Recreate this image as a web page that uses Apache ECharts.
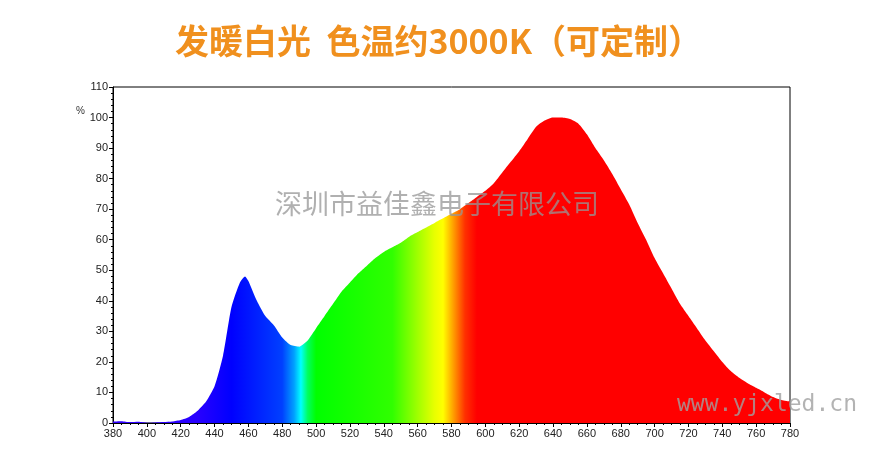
<!DOCTYPE html>
<html><head><meta charset="utf-8">
<script src="https://cdn.jsdelivr.net/npm/echarts@6/dist/echarts.min.js"></script>
<style>html,body{margin:0;padding:0;background:#fff}#c{width:877px;height:460px}</style>
</head><body><div id="c"></div>
<script>
const wavelengths = [380,385,390,395,400,405,410,415,420,425,430,435,440,445,450,455,458,460,465,470,475,480,485,490,495,500,505,510,515,520,525,530,535,540,545,550,555,560,565,570,575,580,585,590,595,600,605,610,615,620,625,630,635,640,645,650,655,660,665,670,675,680,685,690,695,700,705,710,715,720,725,730,735,740,745,750,755,760,765,770,775,780];
const intensity = [0.5,0.6,0.3,0.4,0.1,0.2,0.3,0.5,1,2,4,7,12,22,38,46,48,46.5,40,35,32,28,25.5,25,27,31,35,39,43,46,49,51.5,54,56,57.5,59,61,62.5,64,65.5,67,68.5,70,72,74,76,78.5,82,85.5,89,93,97,99,100,100,99.5,98,94.5,90,86,81.5,76.5,71.5,65.5,60,54,49,44,39,35,31,27,23.5,20,17,14.8,13,11.5,10,8.5,7.5,7];
const xTicks = {min:380, max:780, step:20};
const yTicks = {min:0, max:110, step:10};
const title = '发暖白光  色温约3000K（可定制）';
const watermark1 = '深圳市益佳鑫电子有限公司';
const watermark2 = 'www.yjxled.cn';
const specStops = [[380,'#3000ff'],[430,'#2800ff'],[450,'#0000ff'],[480,'#0040ff'],[487,'#00a0ff'],[491,'#00ffff'],[495,'#00ff60'],[500,'#00ff00'],[545,'#30ff00'],[560,'#a0ff00'],[570,'#e8ff00'],[575,'#ffff00'],[580,'#ffb000'],[588,'#ff3000'],[595,'#ff0000'],[780,'#ff0000']];
const data = wavelengths.map((w,i)=>[w,intensity[i]]);
const chart = echarts.init(document.getElementById('c'));
const axisLabel = {color:'#222', fontSize:11, fontFamily:'Liberation Sans'};
chart.setOption({
  animation:false,
  title:{text:title,left:'center',top:19,textStyle:{color:'#f0901e',fontSize:34,fontWeight:'bold',fontFamily:'Noto Sans CJK SC'}},
  graphic:[
    {type:'text',left:76,top:106,style:{text:'%',fill:'#333',font:'10px Liberation Sans'}},
    {type:'text',left:275,top:190,z:100,style:{text:watermark1,fill:'rgba(150,150,150,0.75)',font:'27px Noto Sans CJK SC'}},
    {type:'text',left:677,top:394,z:100,style:{text:watermark2,fill:'rgba(160,160,160,0.8)',font:'23px DejaVu Sans Mono'}}
  ],
  grid:{left:113,right:87,top:87,bottom:37,show:true,borderColor:'#000',borderWidth:1},
  xAxis:{type:'value',min:xTicks.min,max:xTicks.max,interval:xTicks.step,
    axisLine:{lineStyle:{color:'#000'}},axisTick:{length:4,lineStyle:{color:'#000'}},
    minorTick:{show:true,splitNumber:4,length:2,lineStyle:{color:'#000'}},
    splitLine:{show:false},axisLabel:{...axisLabel,margin:5}},
  yAxis:{type:'value',min:yTicks.min,max:yTicks.max,interval:yTicks.step,
    axisLine:{show:true,lineStyle:{color:'#000'}},axisTick:{show:true,length:4,lineStyle:{color:'#000'}},
    minorTick:{show:true,splitNumber:5,length:2,lineStyle:{color:'#000'}},
    splitLine:{show:false},axisLabel:{...axisLabel,margin:5}},
  series:[{type:'line',data:data,smooth:0.2,symbol:'none',lineStyle:{width:0},
    areaStyle:{opacity:1,color:new echarts.graphic.LinearGradient(0,0,1,0,
      specStops.map(s=>({offset:(s[0]-380)/400,color:s[1]})))}}]
});
</script></body></html>
